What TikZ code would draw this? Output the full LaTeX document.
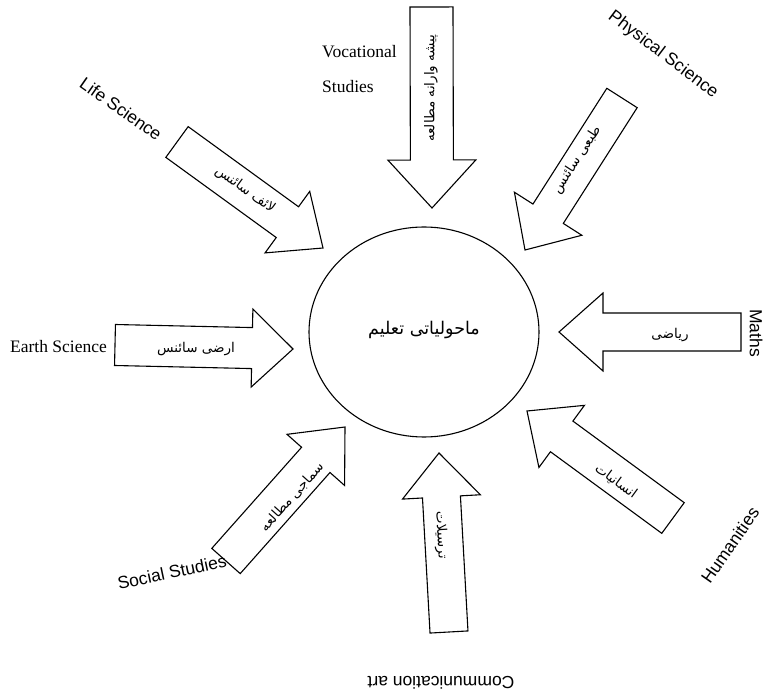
\documentclass[tikz,border=0pt]{standalone}
\usepackage{fontspec}
\setmainfont{Liberation Serif}
\setsansfont{Liberation Sans}
\newfontfamily\urdu[Script=Arabic]{DejaVu Sans}
\TeXXeTstate=1
\usetikzlibrary{calc,shapes.geometric}
\tikzset{
  arrowshape/.style={draw=black, line width=1.1pt, fill=white, line join=miter},
  serif label/.style={font=\fontsize{17.5}{20}\selectfont\rmfamily, inner sep=0pt},
  sans label/.style={font=\fontsize{17.5}{20}\selectfont\sffamily, inner sep=0pt},
  urdu label/.style={font=\fontsize{13.5}{16}\selectfont\urdu, inner sep=0pt},
  hub/.style={draw=black, line width=1.1pt, ellipse, minimum width=230pt, minimum height=210pt}
}
\newcommand\blockarr[5]{%
  \coordinate (hb) at ($(#2)!#5!(#1)$);
  \draw[arrowshape] ($(#1)!#3!90:(#2)$) -- ($(hb)!#3!90:(#2)$) -- ($(hb)!#4!90:(#2)$) -- (#2)
     -- ($(hb)!#4!-90:(#2)$) -- ($(hb)!#3!-90:(#2)$) -- ($(#1)!#3!-90:(#2)$) -- cycle;}
\begin{document}
\begin{tikzpicture}[x=1pt,y=1pt]
\useasboundingbox (0,0) rectangle (764,694);
% hub
\node[hub] (hubnode) at (424,362) {};
\node[urdu label, font=\fontsize{17.5}{20}\selectfont\urdu] (hubtext) at (424,364) {\beginR ماحولیاتی تعلیم\endR};
% arrow end points
\coordinate (vocT) at (431.5,687); \coordinate (vocH) at (432,486);
\coordinate (phyT) at (622,596);   \coordinate (phyH) at (525,444);
\coordinate (lifT) at (177,552);   \coordinate (lifH) at (323,446);
\coordinate (earT) at (115,349);   \coordinate (earH) at (293,345);
\coordinate (matT) at (741,362);   \coordinate (matH) at (559,362);
\coordinate (humT) at (673,176);   \coordinate (humH) at (527,283);
\coordinate (comT) at (449,62);    \coordinate (comH) at (439,241);
\coordinate (socT) at (226,133);   \coordinate (socH) at (345,267);
% arrows
\blockarr{vocT}{vocH}{21.5pt}{44pt}{48pt}
\blockarr{phyT}{phyH}{18pt}{40pt}{43pt}
\blockarr{lifT}{lifH}{19pt}{38pt}{44pt}
\blockarr{earT}{earH}{20.5pt}{39pt}{41pt}
\blockarr{matT}{matH}{19pt}{39pt}{44pt}
\blockarr{humT}{humH}{19pt}{38.5pt}{43pt}
\blockarr{comT}{comH}{19pt}{39pt}{44pt}
\blockarr{socT}{socH}{19pt}{38.5pt}{44pt}
% urdu labels in arrows
\node[urdu label, rotate=90] (vocU) at (431,606) {\beginR پیشه وارانه مطالعه\endR};
\node[urdu label, rotate=57] (phyU) at (577,534) {\beginR طبعی سائنس\endR};
\node[urdu label, rotate=-36] (lifU) at (245,504) {\beginR لائف سائنس\endR};
\node[urdu label] (earU) at (196,345) {\beginR ارضی سائنس\endR};
\node[urdu label] (matU) at (670,359) {\beginR ریاضی\endR};
\node[urdu label, rotate=-36] (humU) at (616,213) {\beginR انسانیات\endR};
\node[urdu label, rotate=-87] (comU) at (441,159) {\beginR ترسیلات\endR};
\node[urdu label, rotate=48] (socU) at (292,197) {\beginR سماجی مطالعه\endR};
% english labels
\node[serif label, anchor=west] (vocE1) at (322,642) {Vocational};
\node[serif label, anchor=west] (vocE2) at (322,607) {Studies};
\node[sans label, rotate=-37] (phyE) at (663,639) {Physical Science};
\node[sans label, rotate=-35] (lifE) at (121,585) {Life Science};
\node[serif label, anchor=east] (earE) at (107,347) {Earth Science};
\node[sans label, rotate=-90] (matE) at (756,361) {Maths};
\node[sans label, rotate=55] (humE) at (730,149) {Humanities};
\node[sans label, rotate=180] (comE) at (441,11) {Communication art};
\node[sans label, rotate=12] (socE) at (172,122) {Social Studies};
\end{tikzpicture}
\end{document}
